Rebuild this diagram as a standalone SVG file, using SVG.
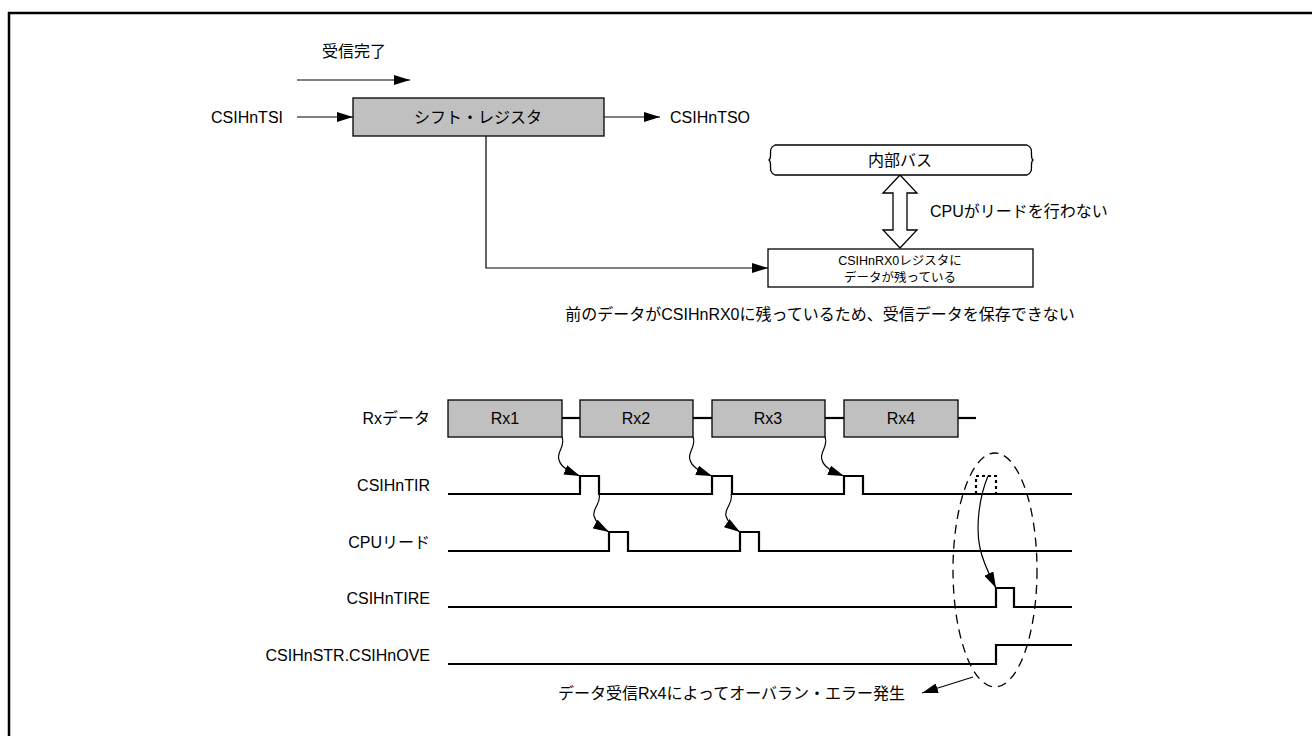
<svg xmlns="http://www.w3.org/2000/svg" width="1312" height="736" viewBox="0 0 1312 736">
<style>
.t{font-family:"Liberation Sans","Noto Sans CJK JP",sans-serif;font-size:16px;fill:#000}
.s{font-size:12.5px}
.sig{fill:none;stroke:#000;stroke-width:2.2}
.box{fill:#c0c0c0;stroke:#000;stroke-width:1.3}
.wb{fill:#fff;stroke:#000;stroke-width:1.3}
.ar{fill:none;stroke:#000;stroke-width:1.2;marker-end:url(#ah)}
.dash{fill:none;stroke:#000;stroke-width:1.3;stroke-dasharray:9 6}
.dot{fill:none;stroke:#000;stroke-width:2.2;stroke-dasharray:3 3}
</style>
<defs>
<marker id="ah" viewBox="0 0 16 10" refX="16" refY="5" markerWidth="16" markerHeight="10" markerUnits="userSpaceOnUse" orient="auto">
<path d="M0,0 L16,5 L0,10 Z" fill="#000"/>
</marker>
</defs>
<rect x="9" y="13" width="1320" height="740" fill="none" stroke="#000" stroke-width="2.5"/>

<g id="connectors">
<line class="ar" x1="297" y1="80" x2="410" y2="80"/>
<line class="ar" x1="297" y1="117" x2="353" y2="117"/>
<line class="ar" x1="604" y1="117" x2="660" y2="117"/>
<polyline class="ar" points="486,136 486,268 768,268"/>
<path d="M900,175 L917,193 L907,193 L907,230 L917,230 L900,248 L883,230 L893,230 L893,193 L883,193 Z" class="wb"/>
<path class="ar" d="M562,437 C566,446 556,452 559,460 C561,467 568,471 580,476"/>
<path class="ar" d="M693,437 C697,446 687,452 690,460 C692,467 699,471 712,476"/>
<path class="ar" d="M825,437 C829,446 819,452 822,460 C824,467 831,471 844,476"/>
<path class="ar" d="M599,494 C602,503 592,508 594,516 C596,523 602,528 609,532"/>
<path class="ar" d="M731,494 C734,503 724,508 726,516 C728,523 734,528 740,532"/>
<path class="ar" d="M988,476 C978,500 976,530 980,548 C983,563 990,576 996,588"/>
<line class="ar" x1="973" y1="677" x2="922" y2="693"/>
</g>

<g id="title">
<text class="t" x="354" y="57" text-anchor="middle">受信完了</text>
</g>
<g id="tsi"><text class="t" x="283" y="123" text-anchor="end">CSIHnTSI</text></g>
<g id="shift">
<rect class="box" x="353" y="98" width="251" height="38"/>
<text class="t" x="478" y="123" text-anchor="middle">シフト・レジスタ</text>
</g>
<g id="tso"><text class="t" x="670" y="123">CSIHnTSO</text></g>
<g id="bus">
<path class="wb" d="M775,145 L1027,145 C1035,148 1029,157 1033,160 C1029,163 1035,172 1027,175 L775,175 C767,172 773,163 769,160 C773,157 767,148 775,145 Z"/>
<text class="t" x="900" y="166" text-anchor="middle">内部バス</text>
</g>
<g id="cpu-note"><text class="t" x="930" y="217">CPUがリードを行わない</text></g>
<g id="rx0">
<rect class="wb" x="768" y="249" width="265" height="38"/>
<text class="t s" x="900" y="265" text-anchor="middle">CSIHnRX0レジスタに</text>
<text class="t s" x="900" y="282" text-anchor="middle">データが残っている</text>
</g>
<g id="note1"><text class="t" x="820" y="320" text-anchor="middle">前のデータがCSIHnRX0に残っているため、受信データを保存できない</text></g>

<g id="rxdata">
<text class="t" x="430" y="424" text-anchor="end">Rxデータ</text>
<line class="sig" x1="562" y1="418" x2="580" y2="418"/>
<line class="sig" x1="693" y1="418" x2="712" y2="418"/>
<line class="sig" x1="825" y1="418" x2="844" y2="418"/>
<line class="sig" x1="958" y1="418" x2="976" y2="418"/>
<rect class="box" x="448" y="400" width="114" height="37"/>
<rect class="box" x="580" y="400" width="113" height="37"/>
<rect class="box" x="712" y="400" width="113" height="37"/>
<rect class="box" x="844" y="400" width="114" height="37"/>
<text class="t" x="505" y="424" text-anchor="middle">Rx1</text>
<text class="t" x="636" y="424" text-anchor="middle">Rx2</text>
<text class="t" x="768" y="424" text-anchor="middle">Rx3</text>
<text class="t" x="901" y="424" text-anchor="middle">Rx4</text>
</g>
<g id="tir">
<text class="t" x="430" y="491" text-anchor="end">CSIHnTIR</text>
<polyline class="sig" points="448,494 580,494 580,476 599,476 599,494 712,494 712,476 732,476 732,494 844,494 844,476 863,476 863,494 1072,494"/>
<polyline class="dot" points="976,494 976,476 996,476 996,494"/>
</g>
<g id="cpuread">
<text class="t" x="430" y="548" text-anchor="end">CPUリード</text>
<polyline class="sig" points="448,551 609,551 609,532 628,532 628,551 740,551 740,532 759,532 759,551 1072,551"/>
</g>
<g id="tire">
<text class="t" x="430" y="604" text-anchor="end">CSIHnTIRE</text>
<polyline class="sig" points="448,607 996,607 996,588 1014,588 1014,607 1072,607"/>
</g>
<g id="ove">
<text class="t" x="430" y="661" text-anchor="end">CSIHnSTR.CSIHnOVE</text>
<polyline class="sig" points="448,664 996,664 996,645 1072,645"/>
</g>
<g id="err">
<ellipse class="dash" cx="995" cy="570" rx="42" ry="117"/>
<text class="t" x="905" y="699" text-anchor="end">データ受信Rx4によってオーバラン・エラー発生</text>
</g>
</svg>
